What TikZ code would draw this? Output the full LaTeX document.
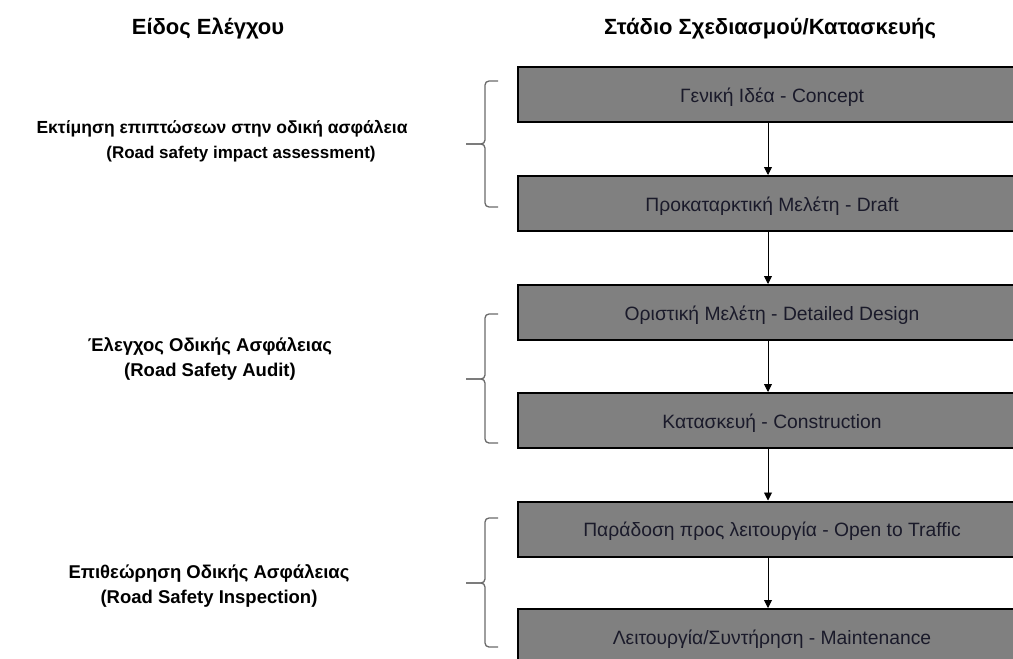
\documentclass[tikz,border=0pt]{standalone}
\usepackage{fontspec}
\setmainfont{Liberation Sans}
\usetikzlibrary{arrows.meta}
\definecolor{boxgray}{HTML}{808080}
\definecolor{textdark}{HTML}{1A1A2A}
\definecolor{bracegray}{HTML}{6A6A6A}
\newcommand\drawcurly[3]{%
  \draw[bracecurve] (498,#1) -- (485,#1) -- (485,#2) -- (466,#2);
  \draw[bracecurve] (466,#2) -- (485,#2) -- (485,#3) -- (498,#3);}
\begin{document}
\begin{tikzpicture}[x=1pt,y=-1pt,
  stagebox/.style={draw=black,line width=2pt,fill=boxgray,minimum width=500pt,minimum height=55pt,inner sep=0pt},
  stagetext/.style={text=textdark,font=\fontsize{19.3}{22}\selectfont,inner sep=0pt},
  flow/.style={-{Triangle[length=8pt,width=8pt]},line width=0.9pt,black},
  bracecurve/.style={draw=bracegray,line width=1.3pt,rounded corners=4pt},
  sidelabel/.style={align=center,text=black,font=\bfseries\fontsize{18.5}{25.5}\selectfont},
  headlabel/.style={text=black,font=\bfseries\fontsize{22}{24}\selectfont}]
\useasboundingbox (0,0) rectangle (1013,659);
\clip (0,0) rectangle (1013,659);

% headers
\node[headlabel] (h1) at (208,29) {Είδος Ελέγχου};
\node[headlabel] (h2) at (770,29) {Στάδιο Σχεδιασμού/Κατασκευής};

% stages
\node[stagebox] (s1) at (768,94.5) {};
\node[stagebox] (s2) at (768,203.5) {};
\node[stagebox] (s3) at (768,312.5) {};
\node[stagebox] (s4) at (768,420.5) {};
\node[stagebox] (s5) at (768,529) {};
\node[stagebox] (s6) at (768,636.5) {};
\node[stagetext] (t1) at (772,97) {Γενική Ιδέα - Concept};
\node[stagetext] (t2) at (772,206) {Προκαταρκτική Μελέτη - Draft};
\node[stagetext] (t3) at (772,315) {Οριστική Μελέτη - Detailed Design};
\node[stagetext] (t4) at (772,423) {Κατασκευή - Construction};
\node[stagetext] (t5) at (772,531.5) {Παράδοση προς λειτουργία - Open to Traffic};
\node[stagetext] (t6) at (772,639) {Λειτουργία/Συντήρηση - Maintenance};

\draw[flow] (s1) -- (s2);
\draw[flow] (s2) -- (s3);
\draw[flow] (s3) -- (s4);
\draw[flow] (s4) -- (s5);
\draw[flow] (s5) -- (s6);

% braces
\drawcurly{81}{144}{207}
\drawcurly{314}{379}{443}
\drawcurly{518}{583}{647}

% side labels
\node[sidelabel,font=\bfseries\fontsize{17.5}{24.5}\selectfont] (l1) at (222,141) {Εκτίμηση επιπτώσεων στην οδική ασφάλεια\\{\fontsize{17}{24.5}\selectfont\hspace*{38pt}(Road safety impact assessment)}};
\node[sidelabel] (l2) at (210,359) {Έλεγχος Οδικής Ασφάλειας\\(Road Safety Audit)};
\node[sidelabel] (l3) at (209,586) {Επιθεώρηση Οδικής Ασφάλειας\\(Road Safety Inspection)};
\end{tikzpicture}
\end{document}
